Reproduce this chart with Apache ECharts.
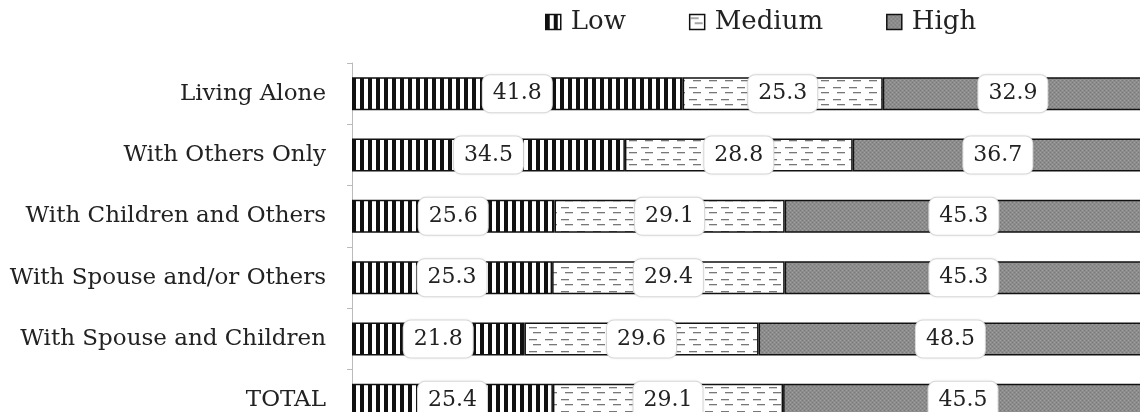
<!DOCTYPE html>
<html><head><meta charset="utf-8">
<script src="https://cdn.jsdelivr.net/npm/echarts@6/dist/echarts.min.js"></script>
<style>html,body{margin:0;padding:0;background:#fff}#c{width:1140px;height:412px}</style>
</head><body><div id="c"></div>
<script>
var categories = ['Living Alone','With Others Only','With Children and Others','With Spouse and/or Others','With Spouse and Children','TOTAL'];
var lowValues = [41.8,34.5,25.6,25.3,21.8,25.4];
var mediumValues = [25.3,28.8,29.1,29.4,29.6,29.1];
var highValues = [32.9,36.7,45.3,45.3,48.5,45.5];
var seriesNames = ['Low','Medium','High'];

function mk(w,h,draw){var c=document.createElement('canvas');c.width=w;c.height=h;var x=c.getContext('2d');draw(x);return c;}
var lowPat = mk(8,8,function(x){x.fillStyle='#fff';x.fillRect(0,0,8,8);x.fillStyle='#111';x.fillRect(0,0,4,8);});
var medPat = mk(16,12,function(x){x.fillStyle='#fff';x.fillRect(0,0,16,12);x.fillStyle='#777';x.fillRect(1,3,8,1.3);x.fillRect(5,8,8,1.3);});
var highPat = mk(4,4,function(x){x.fillStyle='#8c8c8c';x.fillRect(0,0,4,4);x.fillStyle='#a0a0a0';x.fillRect(0,0,1,1);x.fillRect(2,2,1,1);x.fillStyle='#7a7a7a';x.fillRect(2,0,1,1);x.fillRect(0,2,1,1);});
var pats=[lowPat,medPat,highPat];
var dataSets=[lowValues,mediumValues,highValues];

var font='"DejaVu Serif",serif';
var series = seriesNames.map(function(n,i){
  return {name:n,type:'bar',stack:'s',barWidth:33,data:dataSets[i],
    itemStyle:{color:{image:pats[i],repeat:'repeat'},borderColor:'#111',borderWidth:1.5},
    label:{show:true,position:'inside',formatter:function(p){return p.value.toFixed(1);},
      fontFamily:font,fontSize:22,color:'#222',backgroundColor:'#fff',borderColor:'#ddd',borderWidth:1,
      borderRadius:7,padding:[8,10,7,10],shadowColor:'rgba(0,0,0,0.08)',shadowBlur:3},
    emphasis:{disabled:true}};
});
var chart=echarts.init(document.getElementById('c'));
chart.setOption({
  animation:false,
  legend:{top:4,left:540,itemGap:63,itemWidth:15,itemHeight:15,icon:'rect',
    textStyle:{fontFamily:font,fontSize:26,color:'#222',padding:[0,0,0,5]},
    itemStyle:{borderColor:'#111',borderWidth:1.5}},
  grid:{left:352,right:-3,top:63,height:368,outerBoundsMode:'none',containLabel:false},
  xAxis:{type:'value',min:0,max:100,show:false},
  yAxis:{type:'category',data:categories,inverse:true,
    axisLine:{show:true,lineStyle:{color:'#bbb'}},axisTick:{show:true,length:5,lineStyle:{color:'#bbb'}},
    axisLabel:{margin:26,fontFamily:font,fontSize:23,color:'#222'}},
  series:series
});
</script></body></html>
